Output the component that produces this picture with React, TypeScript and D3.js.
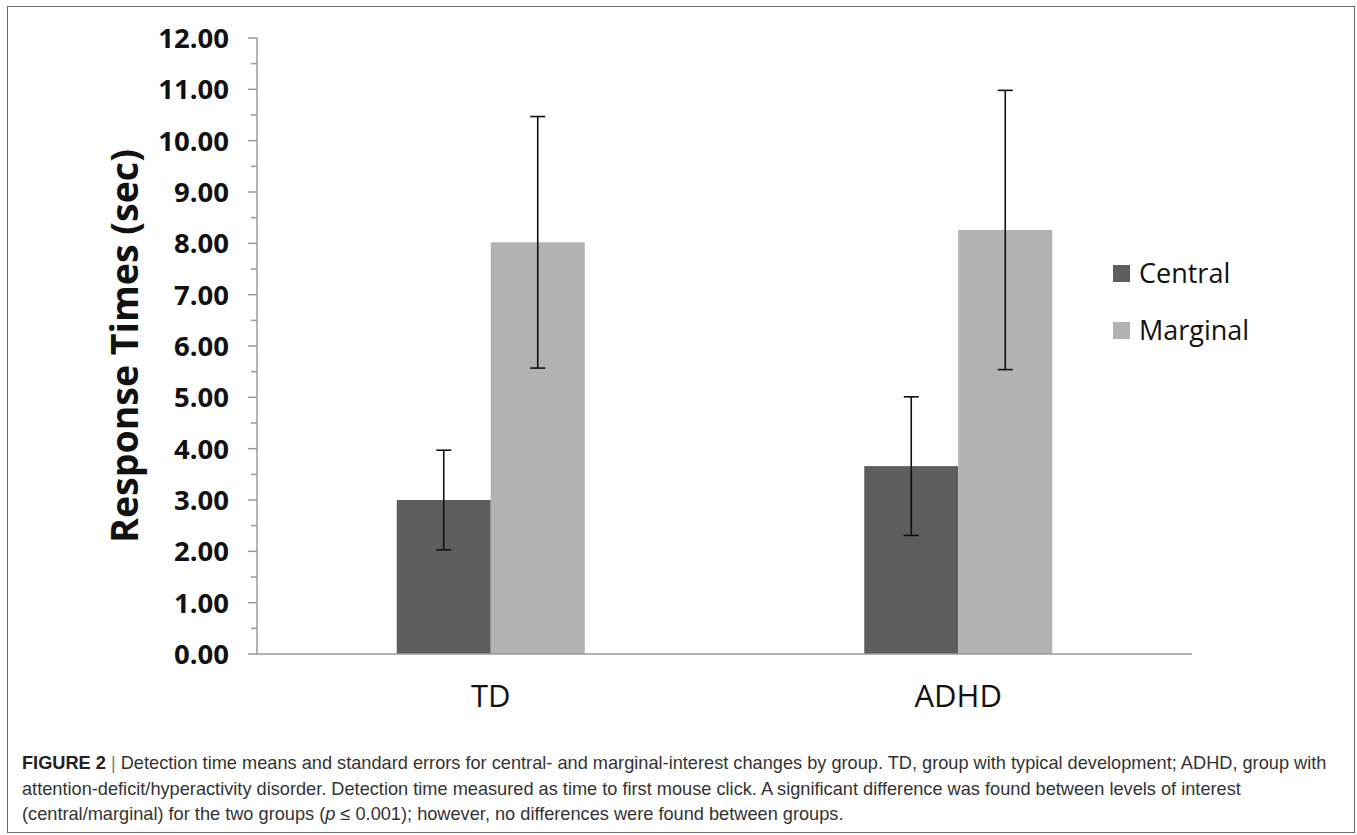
import React from "react";
import * as d3 from "d3";

const groups = ["TD", "ADHD"];
const series = ["Central", "Marginal"];
const centralMeans = [3.0, 3.66];
const centralErrors = [0.97, 1.35];
const marginalMeans = [8.02, 8.26];
const marginalErrors = [2.45, 2.72];
const yTicks = [0, 1, 2, 3, 4, 5, 6, 7, 8, 9, 10, 11, 12];
const yMinorTicks = [0.5, 1.5, 2.5, 3.5, 4.5, 5.5, 6.5, 7.5, 8.5, 9.5, 10.5, 11.5];
const seriesColors = ["#5e5e5e", "#b2b2b2"];

const W = 1357;
const H = 835;

export default function App() {
  const y = d3.scaleLinear().domain([0, 12]).range([654, 38]);
  const x0 = d3.scaleBand().domain(groups).range([257, 1192]).paddingInner(0).paddingOuter(0);
  const groupW = 188;
  const x1 = d3.scaleBand().domain(series).range([0, groupW]);
  const means = [centralMeans, marginalMeans];
  const errs = [centralErrors, marginalErrors];
  const chartFont = "'Open Sans', 'Noto Sans', sans-serif";
  const capFont = "'Liberation Sans', Arial, sans-serif";

  return (
    <svg
      width={W}
      height={H}
      style={{ position: "absolute", left: 0, top: 0, background: "#fff" }}
    >
      <rect x={7.5} y={6.5} width={1347} height={826} fill="none" stroke="#6b6b6b" strokeWidth={1} />

      {/* bars */}
      {groups.map((g, gi) => {
        const gx = (x0(g) as number) + (x0.bandwidth() - groupW) / 2;
        return series.map((s, si) => {
          const v = means[si][gi];
          const bx = gx + (x1(s) as number);
          return (
            <rect
              key={g + s}
              x={bx}
              y={y(v)}
              width={x1.bandwidth()}
              height={y(0) - y(v)}
              fill={seriesColors[si]}
            />
          );
        });
      })}

      {/* axes */}
      <line x1={257} x2={257} y1={y(12)} y2={y(0)} stroke="#9a9a9a" strokeWidth={1.5} />
      <line x1={257} x2={1192} y1={y(0)} y2={y(0)} stroke="#9a9a9a" strokeWidth={1.5} />
      {yTicks.map((t) => (
        <g key={t}>
          <line x1={248} x2={257} y1={y(t)} y2={y(t)} stroke="#9a9a9a" strokeWidth={1.5} />
          <text
            x={229}
            y={y(t)}
            dy="0.36em"
            textAnchor="end"
            fontFamily={chartFont}
            fontWeight="bold"
            fontSize={27.5}
            fill="#111"
          >
            {t.toFixed(2)}
          </text>
        </g>
      ))}
      {yMinorTicks.map((t) => (
        <line key={t} x1={251} x2={257} y1={y(t)} y2={y(t)} stroke="#9a9a9a" strokeWidth={1.5} />
      ))}

      {/* error bars */}
      {groups.map((g, gi) => {
        const gx = (x0(g) as number) + (x0.bandwidth() - groupW) / 2;
        return series.map((s, si) => {
          const cx = gx + (x1(s) as number) + x1.bandwidth() / 2;
          const m = means[si][gi];
          const e = errs[si][gi];
          return (
            <g key={"e" + g + s} stroke="#111" strokeWidth={1.6}>
              <line x1={cx} x2={cx} y1={y(m + e)} y2={y(m - e)} />
              <line x1={cx - 7.5} x2={cx + 7.5} y1={y(m + e)} y2={y(m + e)} />
              <line x1={cx - 7.5} x2={cx + 7.5} y1={y(m - e)} y2={y(m - e)} />
            </g>
          );
        });
      })}

      {/* x labels */}
      {groups.map((g) => (
        <text
          key={g}
          x={(x0(g) as number) + x0.bandwidth() / 2}
          y={696}
          dy="0.36em"
          textAnchor="middle"
          fontFamily={chartFont}
          fontSize={31}
          fill="#111"
        >
          {g}
        </text>
      ))}

      {/* y label */}
      <text
        transform={`translate(138,346) rotate(-90)`}
        textAnchor="middle"
        fontFamily={chartFont}
        fontWeight="bold"
        fontSize={37.5}
        fill="#111"
      >
        Response Times (sec)
      </text>

      {/* legend */}
      {series.map((s, si) => (
        <g key={s} transform={`translate(1113,${265 + si * 57})`}>
          <rect x={0} y={0} width={17} height={17} fill={seriesColors[si]} />
          <text x={26} y={8.5} dy="0.36em" fontFamily={chartFont} fontSize={27} fill="#111">
            {s}
          </text>
        </g>
      ))}

      {/* caption */}
      <g fontFamily={capFont} fontSize={18.2} fill="#333">
        <text x={22} y={769}>
          <tspan fontWeight="bold" fill="#222">FIGURE 2</tspan>
          <tspan fill="#777"> | </tspan>
          <tspan>
            Detection time means and standard errors for central- and marginal-interest changes by group. TD, group with typical development; ADHD, group with
          </tspan>
        </text>
        <text x={22} y={795}>
          attention-deficit/hyperactivity disorder. Detection time measured as time to first mouse click. A significant difference was found between levels of interest
        </text>
        <text x={22} y={820}>
          (central/marginal) for the two groups (<tspan fontStyle="italic">p</tspan> ≤ 0.001); however, no differences were found between groups.
        </text>
      </g>
    </svg>
  );
}
